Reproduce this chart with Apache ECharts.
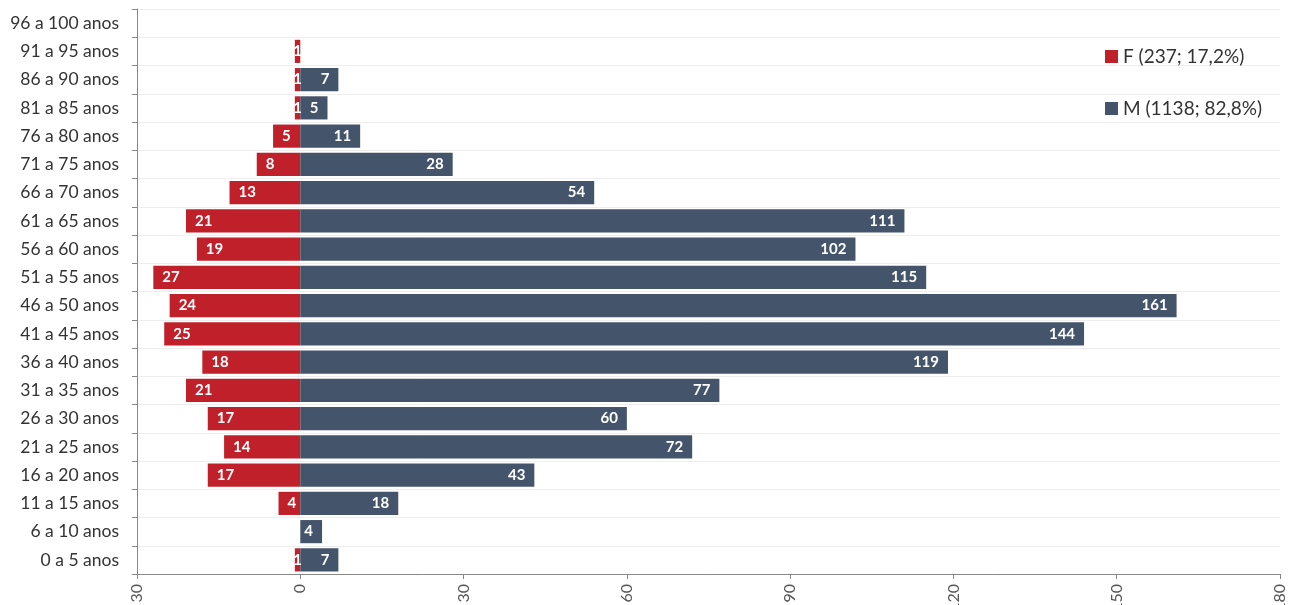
<!DOCTYPE html>
<html>
<head>
<meta charset="utf-8">
<script src="https://cdn.jsdelivr.net/npm/echarts@6/dist/echarts.min.js"></script>
<style>
  html, body { margin: 0; padding: 0; background: #fff; }
  #chart { width: 1290px; height: 605px; }
</style>
</head>
<body>
<div id="chart"></div>
<script>
// faixas etárias, de baixo para cima
const ageGroups = ['0 a 5 anos', '6 a 10 anos', '11 a 15 anos', '16 a 20 anos', '21 a 25 anos',
  '26 a 30 anos', '31 a 35 anos', '36 a 40 anos', '41 a 45 anos', '46 a 50 anos',
  '51 a 55 anos', '56 a 60 anos', '61 a 65 anos', '66 a 70 anos', '71 a 75 anos',
  '76 a 80 anos', '81 a 85 anos', '86 a 90 anos', '91 a 95 anos', '96 a 100 anos']
const femaleCounts = [1, 0, 4, 17, 14, 17, 21, 18, 25, 24, 27, 19, 21, 13, 8, 5, 1, 1, 1, 0]
const maleCounts = [7, 4, 18, 43, 72, 60, 77, 119, 144, 161, 115, 102, 111, 54, 28, 11, 5, 7, 0, 0]
const femaleName = 'F (237; 17,2%)'
const maleName = 'M (1138; 82,8%)'
const xTicks = [-30, 0, 30, 60, 90, 120, 150, 180]

const chart = echarts.init(document.getElementById('chart'))
const font = 'Lato, "Open Sans", sans-serif'

function toData(arr, sign) {
  return arr.map(v => {
    if (!v) return null
    const item = { value: sign * v }
    if (v < 3) item.label = { position: 'inside' }  // barra pequena: rótulo centrado
    return item
  })
}

const barLabel = (pos) => ({
  show: true,
  position: pos,
  distance: 9,
  color: '#fff',
  fontWeight: 'bold',
  fontSize: 15,
  fontFamily: font,
  formatter: p => p.value ? Math.abs(p.value) : ''
})

const option = {
  animation: false,
  textStyle: { fontFamily: font },
  grid: { left: 137, right: 10, top: 9, bottom: 31, outerBoundsMode: 'none' },
  legend: {
    orient: 'vertical',
    left: 1100,
    top: 42,
    itemWidth: 13,
    itemHeight: 13,
    itemGap: 33,
    icon: 'rect',
    textStyle: { fontSize: 19, color: '#333', fontFamily: font },
    data: [femaleName, maleName]
  },
  xAxis: {
    type: 'value',
    min: xTicks[0],
    max: xTicks[xTicks.length - 1],
    interval: 30,
    axisLine: { show: true, onZero: false, lineStyle: { color: '#888' } },
    axisTick: { show: true, length: 5, lineStyle: { color: '#888' } },
    splitLine: { show: false },
    axisLabel: {
      rotate: 90,
      fontSize: 16,
      color: '#555',
      margin: 10,
      formatter: v => Math.abs(v)
    }
  },
  yAxis: {
    type: 'category',
    data: ageGroups,
    axisLine: { show: true, onZero: false, lineStyle: { color: '#888' } },
    axisTick: { show: true, length: 5, lineStyle: { color: '#888' } },
    splitLine: { show: true, lineStyle: { color: '#eeeeee' } },
    axisLabel: { fontSize: 17.5, color: '#333', margin: 18 }
  },
  series: [
    {
      name: femaleName,
      type: 'bar',
      stack: 'total',
      barCategoryGap: '18%',
      itemStyle: { color: '#C0202A' },
      label: barLabel('insideLeft'),
      data: toData(femaleCounts, -1)
    },
    {
      name: maleName,
      type: 'bar',
      stack: 'total',
      barCategoryGap: '18%',
      itemStyle: { color: '#44546A' },
      label: barLabel('insideRight'),
      data: toData(maleCounts, 1)
    }
  ]
}

chart.setOption(option)
</script>
</body>
</html>
